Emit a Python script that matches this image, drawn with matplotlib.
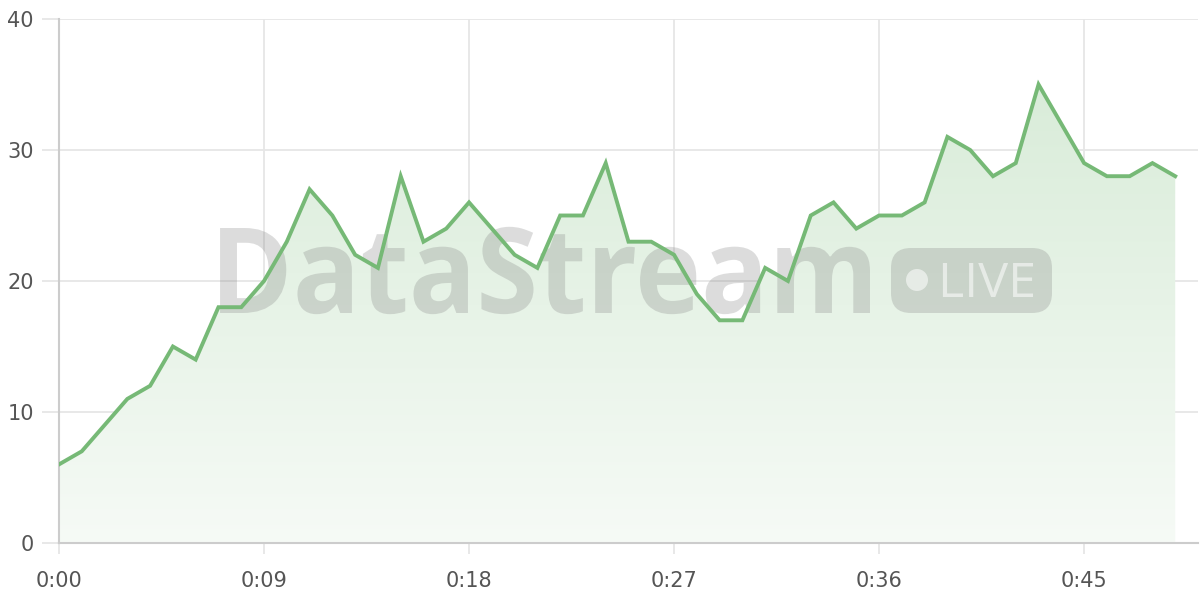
import matplotlib
matplotlib.use("Agg")
import matplotlib.pyplot as plt
import numpy as np
from matplotlib.patches import FancyBboxPatch, Circle, Polygon, PathPatch
from matplotlib.textpath import TextPath
from matplotlib.font_manager import FontProperties
from matplotlib.transforms import Affine2D
from matplotlib.colors import LinearSegmentedColormap

seconds = list(range(50))
values = [6, 7, 9, 11, 12, 15, 14, 18, 18, 20,
          23, 27, 25, 22, 21, 28, 23, 24, 26, 24,
          22, 21, 25, 25, 29, 23, 23, 22, 19, 17,
          17, 21, 20, 25, 26, 24, 25, 25, 26, 31,
          30, 28, 29, 35, 32, 29, 28, 28, 29, 28]
x_ticks = [0, 9, 18, 27, 36, 45]
x_tick_labels = ["0:00", "0:09", "0:18", "0:27", "0:36", "0:45"]
y_ticks = [0, 10, 20, 30, 40]

plt.rcParams['font.family'] = ['DejaVu Sans']

fig = plt.figure(figsize=(12, 6), dpi=100)
W, H = 1200, 600
ax = fig.add_axes([59 / W, (H - 543) / H, (1198 - 59) / W, (543 - 19) / H])
ax.set_xlim(0, 50)
ax.set_ylim(0, 40)

line_color = "#76b976"

# pixel transform (origin top-left, y down)
pix = Affine2D().scale(1 / 100.0, -1 / 100.0).translate(0, H / 100.0) + fig.dpi_scale_trans

# gradient fill
verts = [(seconds[0], 0)] + list(zip(seconds, values)) + [(seconds[-1], 0)]
poly = Polygon(verts, closed=True, facecolor="none", edgecolor="none")
ax.add_patch(poly)
grad = np.linspace(0, 1, 256).reshape(-1, 1)
cmap = LinearSegmentedColormap.from_list("g", [(0.965, 0.982, 0.965, 1.0), (0.835, 0.918, 0.835, 1.0)])
im = ax.imshow(grad, extent=[0, 50, 0, 40], origin="lower", aspect="auto",
               cmap=cmap, zorder=1, interpolation="bilinear")
im.set_clip_path(poly)

ax.plot(seconds, values, color=line_color, lw=2.8, zorder=5, solid_joinstyle="miter")


def fitted_text(s, family, weight, x0, x1, top, base, color, z):
    fp = FontProperties(family=family, weight=weight)
    tp = TextPath((0, 0), s, size=100, prop=fp)
    v = tp.vertices
    xmin, xmax = v[:, 0].min(), v[:, 0].max()
    cap = TextPath((0, 0), s[0], size=100, prop=fp).vertices[:, 1].max()
    sx = (x1 - x0) / (xmax - xmin)
    sy = (base - top) / cap
    t = Affine2D().translate(-xmin, 0).scale(sx, -sy).translate(x0, base)
    path = t.transform_path(tp)
    p = PathPatch(path, facecolor=color, edgecolor="none", transform=pix, zorder=z)
    ax.add_artist(p)
    p.set_clip_on(False)


# watermark
wm_color = (0.5, 0.5, 0.5, 0.27)
fitted_text("DataStream", "Open Sans", "bold", 210, 870, 228, 313, wm_color, 3)
pill = FancyBboxPatch((891, 248), 161, 65,
                      boxstyle="round,pad=0,rounding_size=20",
                      transform=pix, facecolor=wm_color, edgecolor="none", zorder=3)
pill.set_clip_on(False)
ax.add_artist(pill)
circ = Circle((917, 280), 11, transform=pix,
              facecolor=(1, 1, 1, 0.55), edgecolor="none", zorder=3.5)
circ.set_clip_on(False)
ax.add_artist(circ)
fitted_text("LIVE", "Open Sans", "normal", 938, 1033, 263, 297, (1, 1, 1, 0.55), 3.5)

# grid and spines
ax.set_xticks(x_ticks)
ax.set_xticklabels(x_tick_labels)
ax.set_yticks(y_ticks)
ax.grid(True, color="#e6e6e6", lw=1.3, zorder=0)
ax.set_axisbelow(True)
for s in ["top", "right"]:
    ax.spines[s].set_visible(False)
for s in ["left", "bottom"]:
    ax.spines[s].set_color("#cccccc")
    ax.spines[s].set_linewidth(1.5)
ax.tick_params(axis="y", length=12, color="#e6e6e6", width=1.3, labelsize=15,
               labelcolor="#555555", pad=6)
ax.tick_params(axis="x", length=8, color="#e6e6e6", width=1.3, labelsize=15,
               labelcolor="#555555", pad=12)

fig.savefig("out.png", dpi=100)
